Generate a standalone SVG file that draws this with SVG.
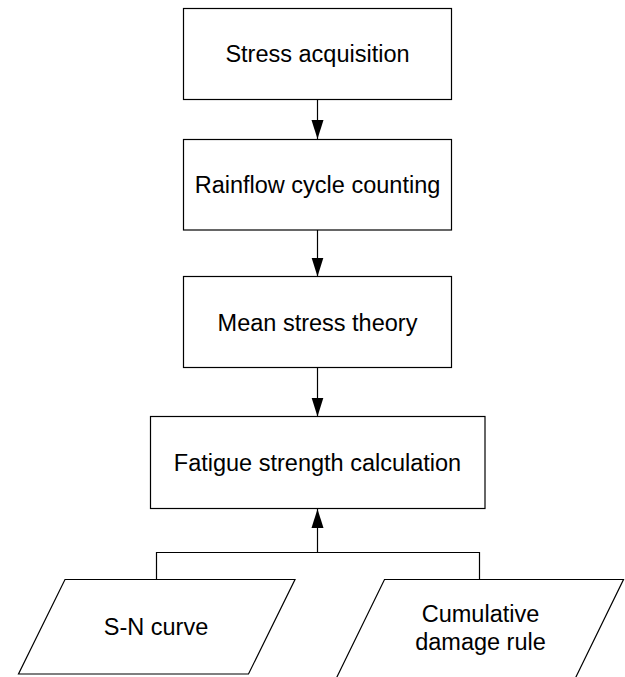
<svg xmlns="http://www.w3.org/2000/svg" width="625" height="677" viewBox="0 0 625 677">
<style>
.box{fill:#fff;stroke:#000;stroke-width:1.2}
.ln{fill:none;stroke:#000;stroke-width:1.2}
.t{font-family:"Liberation Sans",Arial,sans-serif;font-size:23.5px;fill:#000;text-anchor:middle}
</style>
<defs>
<marker id="ah" markerUnits="userSpaceOnUse" markerWidth="20" markerHeight="14" viewBox="0 0 20 14" refX="19" refY="7" orient="auto">
<path d="M0,1 L19,7 L0,13 Z" fill="#000"/>
</marker>
</defs>
<rect width="625" height="677" fill="#fff"/>
<g id="connectors">
<line class="ln" x1="317.5" y1="99.5" x2="317.5" y2="139" marker-end="url(#ah)"/>
<line class="ln" x1="317.5" y1="230" x2="317.5" y2="276.5" marker-end="url(#ah)"/>
<line class="ln" x1="317.5" y1="367.5" x2="317.5" y2="416.5" marker-end="url(#ah)"/>
<polyline class="ln" points="156.5,579.5 156.5,552.5 479.5,552.5 479.5,579.5"/>
<line class="ln" x1="317.5" y1="552.5" x2="317.5" y2="509" marker-end="url(#ah)"/>
</g>
<g id="n1">
<rect class="box" x="183.5" y="8.5" width="268" height="91"/>
<text class="t" x="317.5" y="62">Stress acquisition</text>
</g>
<g id="n2">
<rect class="box" x="183.5" y="139.5" width="268" height="90.5"/>
<text class="t" x="317.5" y="193">Rainflow cycle counting</text>
</g>
<g id="n3">
<rect class="box" x="183.5" y="276.5" width="268" height="91"/>
<text class="t" x="317.5" y="330.5">Mean stress theory</text>
</g>
<g id="n4">
<rect class="box" x="150.5" y="416.5" width="334.5" height="92"/>
<text class="t" x="317.5" y="471">Fatigue strength calculation</text>
</g>
<g id="n5">
<polygon class="box" points="65,579.5 295,579.5 248.5,674 18.5,674"/>
<text class="t" x="156" y="635">S-N curve</text>
</g>
<g id="n6">
<polygon class="box" points="384.5,579.5 623.5,579.5 573,683 334,683"/>
<text class="t" x="480.5" y="621.5">Cumulative</text>
<text class="t" x="480.5" y="649.5">damage rule</text>
</g>
</svg>
